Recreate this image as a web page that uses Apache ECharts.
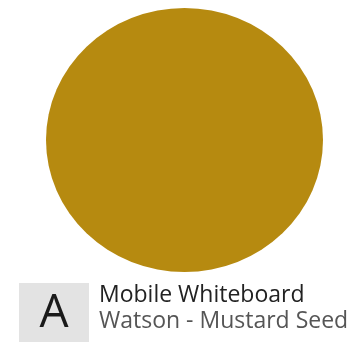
<!DOCTYPE html>
<html>
<head>
<meta charset="utf-8">
<script src="https://cdn.jsdelivr.net/npm/echarts@6/dist/echarts.min.js"></script>
<style>
  html, body { margin: 0; padding: 0; background: #fff; }
  #main { width: 348px; height: 342px; }
</style>
</head>
<body>
<div id="main"></div>
<script>
// swatch data
var swatchX = [0];
var swatchY = [0];
var swatchColor = '#b68a10';
var letter = 'A';
var title = 'Mobile Whiteboard';
var subtitle = 'Watson - Mustard Seed';

var myChart = echarts.init(document.getElementById('main'));
var options = {
  animation: false,
  grid: { left: 46, top: 8, width: 277, height: 264 },
  xAxis: { type: 'value', min: -1, max: 1, show: false },
  yAxis: { type: 'value', min: -1, max: 1, show: false },
  series: [{
    type: 'scatter',
    symbol: 'circle',
    symbolSize: [277, 264],
    itemStyle: { color: swatchColor, opacity: 1 },
    emphasis: { disabled: true },
    data: swatchX.map(function (x, i) { return [x, swatchY[i]]; })
  }],
  graphic: [
    { type: 'rect', shape: { x: 19, y: 283, width: 70, height: 59 }, style: { fill: '#e3e3e3' } },
    { type: 'text', x: 54, y: 314, style: { text: letter, font: '46px "Open Sans", sans-serif', fill: '#1a1a1a', textAlign: 'center', textVerticalAlign: 'middle' } },
    { type: 'text', x: 99, y: 295, style: { text: title, font: '23px "Open Sans", sans-serif', fill: '#222', textVerticalAlign: 'middle' } },
    { type: 'text', x: 99, y: 321, style: { text: subtitle, font: '23px "Open Sans", sans-serif', fill: '#555', textVerticalAlign: 'middle' } }
  ]
};
myChart.setOption(options);
</script>
</body>
</html>
